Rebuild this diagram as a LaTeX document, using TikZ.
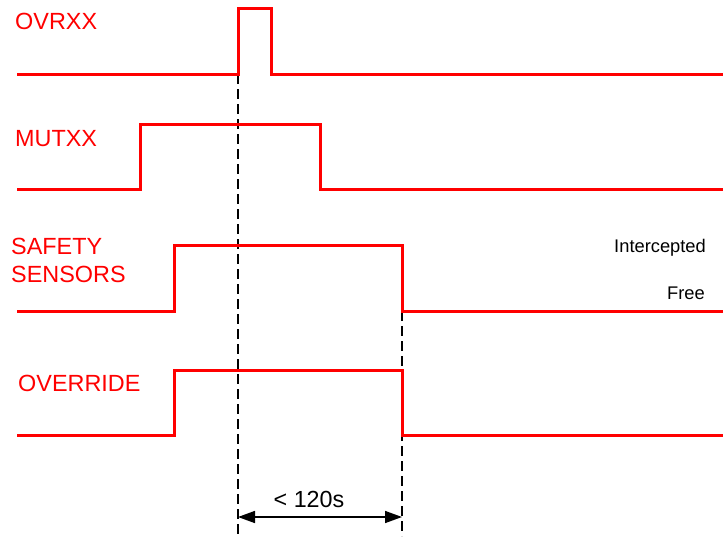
\documentclass[tikz,border=0pt]{standalone}
\usepackage{fontspec}
\setmainfont{Liberation Sans}
\usetikzlibrary{arrows.meta}
\begin{document}
\begin{tikzpicture}[x=1pt,y=-1pt,
  sig/.style={draw=red, line width=3pt, line join=miter},
  lab/.style={text=red, font=\fontsize{23.4}{27}\selectfont, anchor=west, inner sep=0pt},
  note/.style={text=black, font=\fontsize{18.3}{21}\selectfont, anchor=east, inner sep=0pt},
  guide/.style={draw=black, line width=1.5pt, dash pattern=on 10pt off 5pt},
  dim/.style={draw=black, line width=1.6pt, {Triangle[length=17pt,width=12pt]}-{Triangle[length=17pt,width=12pt]}}]
\useasboundingbox (0,0) rectangle (723,538);
% anchor points of the guides
\coordinate (ovrup) at (238,74);
\coordinate (ssdown) at (402,311);
\coordinate (g1end) at (238,538);
\coordinate (g2end) at (402,536);
% guides (under the signals)
\draw[guide] (ovrup) -- (g1end);
\draw[guide] (ssdown) -- (g2end);
% signals
\draw[sig] (17,74) -- (ovrup) -- (238,8) -- (271,8) -- (271,74) -- (723,74);
\draw[sig] (17,189) -- (140,189) -- (140,124) -- (320,124) -- (320,189) -- (723,189);
\draw[sig] (17,311) -- (174,311) -- (174,245) -- (402,245) -- (ssdown) -- (723,311);
\draw[sig] (17,435) -- (174,435) -- (174,370) -- (402,370) -- (402,435) -- (723,435);
% labels
\node[lab] (ovrxx) at (15,21) {OVRXX};
\node[lab] (mutxx) at (15,139) {MUTXX};
\node[lab] (safety) at (11,246) {SAFETY};
\node[lab] (sensors) at (11,274) {SENSORS};
\node[lab] (override) at (18,383) {OVERRIDE};
\node[note] (inter) at (706,248) {Intercepted};
\node[note] (free) at (705,293) {Free};
% duration
\coordinate (a1) at (238,517);
\coordinate (a2) at (402,517);
\draw[dim] (a1) -- (a2);
\node[text=black, font=\fontsize{23.3}{27}\selectfont, inner sep=0pt] (dur) at (309,499) {< 120s};
\end{tikzpicture}
\end{document}
